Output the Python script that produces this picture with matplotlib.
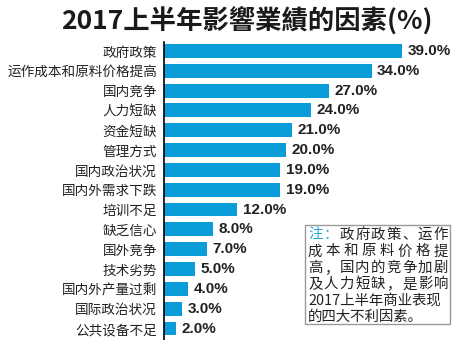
import matplotlib
matplotlib.use('Agg')
import matplotlib.pyplot as plt
from matplotlib.patches import Rectangle

plt.rcParams['font.family'] = ['Noto Sans CJK SC', 'DejaVu Sans']

# data
factors = ['政府政策', '运作成本和原料价格提高', '国内竞争', '人力短缺', '资金短缺',
           '管理方式', '国内政治状况', '国内外需求下跌', '培训不足', '缺乏信心',
           '国外竞争', '技术劣势', '国内外产量过剩', '国际政治状况', '公共设备不足']
values = [39.0, 34.0, 27.0, 24.0, 21.0, 20.0, 19.0, 19.0, 12.0, 8.0, 7.0, 5.0, 4.0, 3.0, 2.0]
title = '2017上半年影響業績的因素(%)'
note_head = '注：'
note_lines = ['政府政策、运作', '成本和原料价格提', '高，国内的竞争加剧', '及人力短缺，是影响',
              '2017上半年商业表现', '的四大不利因素。']

W, H = 457, 340
bar_color = '#0A9BD9'

fig = plt.figure(figsize=(W / 100, H / 100), dpi=100)

def px(x, y):
    return x / W, 1 - y / H

ax = fig.add_axes([164 / W, 0, (W - 164) / W, 298 / H])
ypos = list(range(len(factors)))
ax.barh(ypos, values, height=0.7, color=bar_color)
ax.set_ylim(14.58, -0.45)
ax.set_xlim(0, 48)
ax.set_yticks(ypos)
ax.set_yticklabels(factors, fontsize=9.8, color='#222222')
ax.tick_params(axis='y', length=0, pad=5)
ax.set_xticks([])
for s in ['top', 'right', 'bottom']:
    ax.spines[s].set_visible(False)
ax.spines['left'].set_color('black')
ax.spines['left'].set_linewidth(1.2)

for y, v in zip(ypos, values):
    ax.annotate('%.1f%%' % v, (v, y), xytext=(4, 0), textcoords='offset points',
                va='center', ha='left', fontsize=11, fontweight='bold',
                family='Liberation Sans', color='#222222')

x, y = px(247, 21)
fig.text(x, y, title, ha='center', va='center', fontsize=19, fontweight='bold',
         color='#1a1a1a')

# note box
x0, y0 = px(305, 324)
fig.patches.append(Rectangle((x0, y0), 145 / W, 99 / H, transform=fig.transFigure,
                             facecolor='white', edgecolor='#999999', linewidth=1))

left, right = 308, 448
cw = 14.5
fs = 10.4
line_y = [235 + i * 16.4 for i in range(6)]

def justify(chars, yy, color='#222222'):
    n = len(chars)
    pitch = (right - left - cw) / (n - 1)
    for i, c in enumerate(chars):
        fx, fy = px(left + i * pitch, yy)
        fig.text(fx, fy, c, ha='left', va='center', fontsize=fs, color=color)

first = note_head + note_lines[0]
n = len(first)
pitch = (right - left - cw) / (n - 1)
for i, c in enumerate(first):
    fx, fy = px(left + i * pitch, line_y[0])
    fig.text(fx, fy, c, ha='left', va='center', fontsize=fs,
             color='#2AA7DE' if i < 2 else '#222222')
for k in range(1, 4):
    justify(note_lines[k], line_y[k])
for k in range(4, 6):
    fx, fy = px(left, line_y[k])
    fig.text(fx, fy, note_lines[k], ha='left', va='center', fontsize=fs, color='#222222')

fig.savefig('out.png', dpi=100)
